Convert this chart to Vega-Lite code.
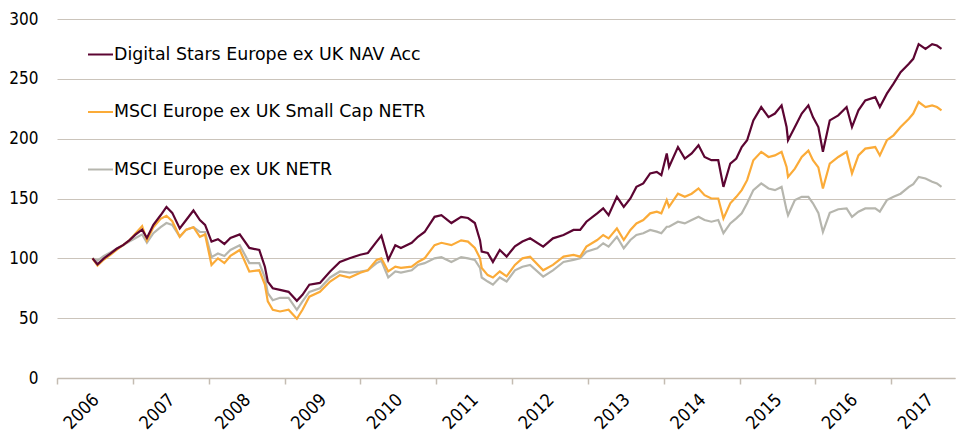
{
  "$schema": "https://vega.github.io/schema/vega-lite/v6.json",
  "autosize": {"type": "none"},
  "padding": {"left": 57, "top": 19, "right": 2, "bottom": 56},
  "width": 898,
  "height": 359,
  "background": "white",
  "config": {"view": {"stroke": null}, "font": "DejaVu Sans"},
  "data": {"values": [
    {"t":"2006-06-21","d":100,"s":100,"n":100},
    {"t":"2006-07-15","d":95,"s":94,"n":98},
    {"t":"2006-08-15","d":100,"s":99,"n":102},
    {"t":"2006-09-15","d":104,"s":103,"n":105},
    {"t":"2006-10-15","d":108,"s":107,"n":108},
    {"t":"2006-11-15","d":111,"s":111,"n":111},
    {"t":"2006-12-15","d":115,"s":115,"n":114},
    {"t":"2007-01-15","d":120,"s":121,"n":117},
    {"t":"2007-02-15","d":124,"s":127,"n":120},
    {"t":"2007-03-10","d":117,"s":115,"n":113},
    {"t":"2007-04-10","d":128,"s":126,"n":121},
    {"t":"2007-05-15","d":136,"s":133,"n":126},
    {"t":"2007-06-12","d":143,"s":135.6,"n":129.5},
    {"t":"2007-07-10","d":138,"s":131,"n":128},
    {"t":"2007-08-15","d":125,"s":118,"n":118},
    {"t":"2007-09-15","d":132,"s":124,"n":124},
    {"t":"2007-10-20","d":140,"s":126,"n":126},
    {"t":"2007-11-20","d":132,"s":118,"n":122},
    {"t":"2007-12-15","d":128,"s":120,"n":122},
    {"t":"2008-01-15","d":114,"s":94.5,"n":101},
    {"t":"2008-02-15","d":116,"s":100,"n":104},
    {"t":"2008-03-17","d":112,"s":96,"n":102},
    {"t":"2008-04-15","d":117,"s":102,"n":107},
    {"t":"2008-05-30","d":120,"s":107,"n":111},
    {"t":"2008-07-15","d":108.7,"s":89,"n":96},
    {"t":"2008-09-01","d":107,"s":90,"n":96},
    {"t":"2008-09-28","d":93,"s":78,"n":84},
    {"t":"2008-10-12","d":80.6,"s":64,"n":71},
    {"t":"2008-11-05","d":75,"s":57,"n":65},
    {"t":"2008-12-10","d":73.7,"s":55.6,"n":67},
    {"t":"2009-01-20","d":72,"s":57,"n":67},
    {"t":"2009-03-01","d":64.5,"s":49.5,"n":57},
    {"t":"2009-03-28","d":69.5,"s":57,"n":64},
    {"t":"2009-04-30","d":78,"s":68,"n":72},
    {"t":"2009-06-20","d":79.5,"s":72,"n":75},
    {"t":"2009-08-08","d":89,"s":80.6,"n":84},
    {"t":"2009-09-24","d":97,"s":86,"n":89},
    {"t":"2009-11-10","d":100,"s":84,"n":88},
    {"t":"2009-12-31","d":103,"s":88,"n":89},
    {"t":"2010-02-06","d":104.5,"s":90,"n":90},
    {"t":"2010-03-20","d":114,"s":98.7,"n":96},
    {"t":"2010-04-12","d":119,"s":100,"n":98},
    {"t":"2010-05-15","d":98.7,"s":89,"n":84},
    {"t":"2010-06-18","d":111,"s":93,"n":89},
    {"t":"2010-07-15","d":108.7,"s":92,"n":88},
    {"t":"2010-09-05","d":113,"s":93,"n":90},
    {"t":"2010-10-05","d":118,"s":97,"n":94.5},
    {"t":"2010-11-06","d":122,"s":100,"n":96},
    {"t":"2010-12-24","d":134.7,"s":111,"n":100},
    {"t":"2011-01-26","d":136,"s":113,"n":101},
    {"t":"2011-03-15","d":129.5,"s":111,"n":97},
    {"t":"2011-05-01","d":134.7,"s":115,"n":101},
    {"t":"2011-06-03","d":133.7,"s":114,"n":100},
    {"t":"2011-07-06","d":129.5,"s":108.7,"n":98.7},
    {"t":"2011-07-31","d":115,"s":100,"n":92},
    {"t":"2011-08-08","d":105.6,"s":92,"n":84},
    {"t":"2011-09-06","d":104.5,"s":86,"n":80.6},
    {"t":"2011-10-01","d":97,"s":84,"n":78},
    {"t":"2011-11-03","d":107,"s":89,"n":84},
    {"t":"2011-12-06","d":101.5,"s":85,"n":80.6},
    {"t":"2012-01-15","d":110,"s":94.5,"n":90},
    {"t":"2012-02-20","d":114,"s":100,"n":93},
    {"t":"2012-03-28","d":116.7,"s":101.4,"n":94.5},
    {"t":"2012-05-30","d":109.8,"s":90,"n":84.7},
    {"t":"2012-07-16","d":116.7,"s":94.5,"n":90},
    {"t":"2012-09-05","d":119.5,"s":101.4,"n":97},
    {"t":"2012-10-23","d":123.7,"s":102.8,"n":98.7},
    {"t":"2012-11-24","d":123.7,"s":101.4,"n":100},
    {"t":"2012-12-24","d":130.6,"s":109.8,"n":105.6},
    {"t":"2013-02-14","d":137.6,"s":115.3,"n":108.4},
    {"t":"2013-03-15","d":141.7,"s":119.5,"n":112.6},
    {"t":"2013-04-10","d":136,"s":116.7,"n":109.8},
    {"t":"2013-05-20","d":151.4,"s":125,"n":118},
    {"t":"2013-06-22","d":143,"s":115.3,"n":108.4},
    {"t":"2013-07-24","d":150,"s":123.7,"n":115.3},
    {"t":"2013-08-22","d":159.7,"s":129.2,"n":119.5},
    {"t":"2013-09-24","d":162.6,"s":132,"n":121},
    {"t":"2013-10-27","d":171,"s":137.6,"n":123.7},
    {"t":"2013-11-28","d":172.3,"s":139,"n":122.3},
    {"t":"2013-12-20","d":169.5,"s":137.6,"n":121},
    {"t":"2014-01-15","d":187.6,"s":148.7,"n":126.4},
    {"t":"2014-01-26","d":176.4,"s":143,"n":126.4},
    {"t":"2014-03-10","d":193,"s":154,"n":130.6},
    {"t":"2014-04-12","d":183.4,"s":151.4,"n":129.2},
    {"t":"2014-05-15","d":187.6,"s":154,"n":132},
    {"t":"2014-06-17","d":194.5,"s":158.4,"n":134.7},
    {"t":"2014-07-16","d":184.7,"s":152.8,"n":132},
    {"t":"2014-08-18","d":182,"s":150,"n":130.6},
    {"t":"2014-09-20","d":182,"s":150,"n":132},
    {"t":"2014-10-15","d":159.7,"s":133.4,"n":121},
    {"t":"2014-11-17","d":179.2,"s":146,"n":129.2},
    {"t":"2014-12-16","d":183.4,"s":151.4,"n":133.4},
    {"t":"2015-01-11","d":193,"s":157,"n":137.6},
    {"t":"2015-02-06","d":198.7,"s":165.3,"n":146},
    {"t":"2015-03-08","d":215.3,"s":182,"n":157},
    {"t":"2015-04-15","d":226.4,"s":189,"n":162.6},
    {"t":"2015-05-20","d":218,"s":184.7,"n":158.4},
    {"t":"2015-06-20","d":221,"s":186,"n":157},
    {"t":"2015-07-22","d":227.8,"s":189,"n":159.7},
    {"t":"2015-08-15","d":209.7,"s":176.4,"n":140.3},
    {"t":"2015-08-22","d":198.7,"s":168,"n":136},
    {"t":"2015-09-24","d":209.7,"s":175,"n":148.7},
    {"t":"2015-10-27","d":221,"s":184.7,"n":151.4},
    {"t":"2015-11-28","d":227.8,"s":190,"n":151.4},
    {"t":"2015-12-20","d":218,"s":182,"n":146},
    {"t":"2016-01-15","d":209.7,"s":176,"n":138},
    {"t":"2016-02-06","d":189,"s":158.4,"n":122},
    {"t":"2016-03-10","d":215.3,"s":179.2,"n":138},
    {"t":"2016-04-20","d":219.5,"s":184.7,"n":141},
    {"t":"2016-05-30","d":226.4,"s":189,"n":141.7},
    {"t":"2016-06-25","d":209.7,"s":171,"n":134.7},
    {"t":"2016-07-26","d":223.7,"s":186,"n":139},
    {"t":"2016-08-28","d":232,"s":191.7,"n":141.7},
    {"t":"2016-10-15","d":234.7,"s":193,"n":141.7},
    {"t":"2016-11-06","d":226.4,"s":186,"n":139},
    {"t":"2016-12-10","d":237.6,"s":198.7,"n":148.7},
    {"t":"2017-01-11","d":246,"s":202.8,"n":151.4},
    {"t":"2017-02-14","d":255.6,"s":209.7,"n":154},
    {"t":"2017-03-26","d":262.6,"s":216.7,"n":159.7},
    {"t":"2017-04-16","d":266.7,"s":221,"n":162},
    {"t":"2017-05-12","d":279,"s":230.6,"n":168},
    {"t":"2017-06-14","d":275,"s":226.4,"n":166.7},
    {"t":"2017-07-16","d":279,"s":227.8,"n":164},
    {"t":"2017-08-08","d":277.8,"s":226.4,"n":162.6},
    {"t":"2017-08-30","d":275,"s":223.7,"n":159.7}
  ]},
  "transform": [{"fold": ["n", "s", "d"], "as": ["series", "value"]}],
  "mark": {"type": "line", "strokeWidth": 2.2, "interpolate": "linear"},
  "encoding": {
    "x": {
      "field": "t", "type": "temporal",
      "scale": {"domain": ["2006-01-01", "2017-11-03"]},
      "axis": {
        "title": null,
        "format": "%Y",
        "tickCount": {"interval": "year", "step": 1},
        "labelOffset": 39,
        "labelAngle": -45,
        "labelAlign": "right",
        "labelBaseline": "middle",
        "labelPadding": 13,
        "labelFont": "DejaVu Sans Condensed",
        "labelFontSize": 18,
        "labelColor": "#000000",
        "domainColor": "#c4bcb2",
        "domainWidth": 1.5,
        "tickColor": "#c4bcb2",
        "tickSize": 6,
        "tickWidth": 1.5,
        "grid": false
      }
    },
    "y": {
      "field": "value", "type": "quantitative",
      "scale": {"domain": [0, 300], "nice": false},
      "axis": {
        "title": null,
        "values": [0, 50, 100, 150, 200, 250, 300],
        "domain": false,
        "ticks": false,
        "labelPadding": 19,
        "labelFont": "DejaVu Sans Condensed",
        "labelFontSize": 17,
        "labelColor": "#000000",
        "gridColor": "#cbc4bb",
        "gridWidth": 1.2
      }
    },
    "color": {
      "field": "series", "type": "nominal",
      "scale": {"domain": ["d", "s", "n"], "range": ["#5c0532", "#fbab38", "#b6b6ae"]},
      "legend": {
        "title": null,
        "orient": "none",
        "legendX": 30,
        "legendY": 22,
        "direction": "vertical",
        "symbolType": "stroke",
        "symbolSize": 625,
        "symbolStrokeWidth": 2,
        "labelOffset": 0,
        "labelFont": "DejaVu Sans",
        "labelFontSize": 17.4,
        "labelColor": "#000000",
        "labelLimit": 500,
        "rowPadding": 35.5,
        "labelExpr": "datum.label == 'd' ? 'Digital Stars Europe ex UK NAV Acc' : datum.label == 's' ? 'MSCI Europe ex UK Small Cap NETR' : 'MSCI Europe ex UK NETR'"
      }
    }
  }
}
